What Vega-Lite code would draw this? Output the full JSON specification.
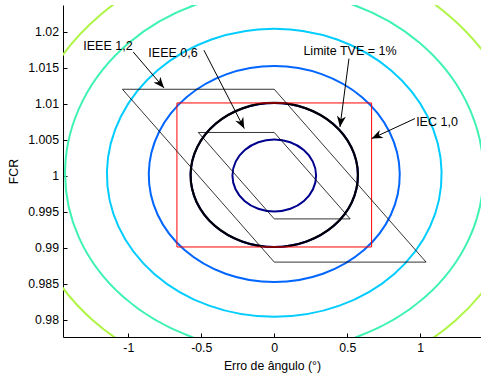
{
  "$schema": "https://vega.github.io/schema/vega-lite/v6.json",
  "width": 418,
  "height": 332,
  "autosize": {"type": "none"},
  "padding": {"left": 63, "top": 5, "right": 0, "bottom": 39},
  "config": {
    "view": {"stroke": null},
    "font": "Liberation Sans",
    "axis": {
      "grid": false,
      "domainColor": "#000",
      "domainWidth": 1,
      "tickColor": "#000",
      "tickWidth": 1,
      "tickSize": -4,
      "labelColor": "#000",
      "titleColor": "#000",
      "labelFont": "Liberation Sans",
      "titleFont": "Liberation Sans",
      "labelFontSize": 12.3,
      "titleFontSize": 12.3,
      "titleFontWeight": "normal"
    }
  },
  "datasets": {
    "rings": [
      {"level": 0.5, "i": 0, "x": 0, "y": 1.005025},
      {"level": 0.5, "i": 1, "x": 0.10912, "y": 1.004646},
      {"level": 0.5, "i": 2, "x": 0.20186, "y": 1.003567},
      {"level": 0.5, "i": 3, "x": 0.26417, "y": 1.001949},
      {"level": 0.5, "i": 4, "x": 0.28648, "y": 1.000038},
      {"level": 0.5, "i": 5, "x": 0.26518, "y": 0.998122},
      {"level": 0.5, "i": 6, "x": 0.20329, "y": 0.996496},
      {"level": 0.5, "i": 7, "x": 0.11014, "y": 0.995407},
      {"level": 0.5, "i": 8, "x": 0, "y": 0.995025},
      {"level": 0.5, "i": 9, "x": -0.11014, "y": 0.995407},
      {"level": 0.5, "i": 10, "x": -0.20329, "y": 0.996496},
      {"level": 0.5, "i": 11, "x": -0.26518, "y": 0.998122},
      {"level": 0.5, "i": 12, "x": -0.28648, "y": 1.000038},
      {"level": 0.5, "i": 13, "x": -0.26417, "y": 1.001949},
      {"level": 0.5, "i": 14, "x": -0.20186, "y": 1.003567},
      {"level": 0.5, "i": 15, "x": -0.10912, "y": 1.004646},

      {"level": 1, "i": 0, "x": 0, "y": 1.0101},
      {"level": 1, "i": 1, "x": 0.21723, "y": 1.009346},
      {"level": 1, "i": 2, "x": 0.40228, "y": 1.007196},
      {"level": 1, "i": 3, "x": 0.52732, "y": 1.00397},
      {"level": 1, "i": 4, "x": 0.57296, "y": 1.00015},
      {"level": 1, "i": 5, "x": 0.53137, "y": 0.996316},
      {"level": 1, "i": 6, "x": 0.40801, "y": 0.993054},
      {"level": 1, "i": 7, "x": 0.22129, "y": 0.990869},
      {"level": 1, "i": 8, "x": 0, "y": 0.9901},
      {"level": 1, "i": 9, "x": -0.22129, "y": 0.990869},
      {"level": 1, "i": 10, "x": -0.40801, "y": 0.993054},
      {"level": 1, "i": 11, "x": -0.53137, "y": 0.996316},
      {"level": 1, "i": 12, "x": -0.57296, "y": 1.00015},
      {"level": 1, "i": 13, "x": -0.52732, "y": 1.00397},
      {"level": 1, "i": 14, "x": -0.40228, "y": 1.007196},
      {"level": 1, "i": 15, "x": -0.21723, "y": 1.009346},

      {"level": 1.5, "i": 0, "x": 0, "y": 1.015225},
      {"level": 1.5, "i": 1, "x": 0.32433, "y": 1.0141},
      {"level": 1.5, "i": 2, "x": 0.60127, "y": 1.010888},
      {"level": 1.5, "i": 3, "x": 0.78946, "y": 1.006061},
      {"level": 1.5, "i": 4, "x": 0.85944, "y": 1.000338},
      {"level": 1.5, "i": 5, "x": 0.79858, "y": 0.994581},
      {"level": 1.5, "i": 6, "x": 0.61416, "y": 0.989675},
      {"level": 1.5, "i": 7, "x": 0.33345, "y": 0.986383},
      {"level": 1.5, "i": 8, "x": 0, "y": 0.985225},
      {"level": 1.5, "i": 9, "x": -0.33345, "y": 0.986383},
      {"level": 1.5, "i": 10, "x": -0.61416, "y": 0.989675},
      {"level": 1.5, "i": 11, "x": -0.79858, "y": 0.994581},
      {"level": 1.5, "i": 12, "x": -0.85944, "y": 1.000338},
      {"level": 1.5, "i": 13, "x": -0.78946, "y": 1.006061},
      {"level": 1.5, "i": 14, "x": -0.60127, "y": 1.010888},
      {"level": 1.5, "i": 15, "x": -0.32433, "y": 1.0141},

      {"level": 2, "i": 0, "x": 0, "y": 1.0204},
      {"level": 2, "i": 1, "x": 0.43042, "y": 1.018907},
      {"level": 2, "i": 2, "x": 0.79883, "y": 1.014642},
      {"level": 2, "i": 3, "x": 1.05059, "y": 1.008225},
      {"level": 2, "i": 4, "x": 1.14592, "y": 1.0006},
      {"level": 2, "i": 5, "x": 1.06679, "y": 0.992917},
      {"level": 2, "i": 6, "x": 0.82175, "y": 0.986358},
      {"level": 2, "i": 7, "x": 0.44662, "y": 0.981951},
      {"level": 2, "i": 8, "x": 0, "y": 0.9804},
      {"level": 2, "i": 9, "x": -0.44662, "y": 0.981951},
      {"level": 2, "i": 10, "x": -0.82175, "y": 0.986358},
      {"level": 2, "i": 11, "x": -1.06679, "y": 0.992917},
      {"level": 2, "i": 12, "x": -1.14592, "y": 1.0006},
      {"level": 2, "i": 13, "x": -1.05059, "y": 1.008225},
      {"level": 2, "i": 14, "x": -0.79883, "y": 1.014642},
      {"level": 2, "i": 15, "x": -0.43042, "y": 1.018907},

      {"level": 2.5, "i": 0, "x": 0, "y": 1.025625},
      {"level": 2.5, "i": 1, "x": 0.53549, "y": 1.023768},
      {"level": 2.5, "i": 2, "x": 0.99496, "y": 1.018459},
      {"level": 2.5, "i": 3, "x": 1.3107, "y": 1.010459},
      {"level": 2.5, "i": 4, "x": 1.4324, "y": 1.000938},
      {"level": 2.5, "i": 5, "x": 1.33602, "y": 0.991325},
      {"level": 2.5, "i": 6, "x": 1.03077, "y": 0.983104},
      {"level": 2.5, "i": 7, "x": 0.56081, "y": 0.977574},
      {"level": 2.5, "i": 8, "x": 0, "y": 0.975625},
      {"level": 2.5, "i": 9, "x": -0.56081, "y": 0.977574},
      {"level": 2.5, "i": 10, "x": -1.03077, "y": 0.983104},
      {"level": 2.5, "i": 11, "x": -1.33602, "y": 0.991325},
      {"level": 2.5, "i": 12, "x": -1.4324, "y": 1.000938},
      {"level": 2.5, "i": 13, "x": -1.3107, "y": 1.010459},
      {"level": 2.5, "i": 14, "x": -0.99496, "y": 1.018459},
      {"level": 2.5, "i": 15, "x": -0.53549, "y": 1.023768},

      {"level": 3, "i": 0, "x": 0, "y": 1.030927},
      {"level": 3, "i": 1, "x": 0.63955, "y": 1.028705},
      {"level": 3, "i": 2, "x": 1.18965, "y": 1.022352},
      {"level": 3, "i": 3, "x": 1.5698, "y": 1.012771},
      {"level": 3, "i": 4, "x": 1.71887, "y": 1.00135},
      {"level": 3, "i": 5, "x": 1.60626, "y": 0.989798},
      {"level": 3, "i": 6, "x": 1.24121, "y": 0.979898},
      {"level": 3, "i": 7, "x": 0.67601, "y": 0.973227},
      {"level": 3, "i": 8, "x": 0, "y": 0.970873},
      {"level": 3, "i": 9, "x": -0.67601, "y": 0.973227},
      {"level": 3, "i": 10, "x": -1.24121, "y": 0.979898},
      {"level": 3, "i": 11, "x": -1.60626, "y": 0.989798},
      {"level": 3, "i": 12, "x": -1.71887, "y": 1.00135},
      {"level": 3, "i": 13, "x": -1.5698, "y": 1.012771},
      {"level": 3, "i": 14, "x": -1.18965, "y": 1.022352},
      {"level": 3, "i": 15, "x": -0.63955, "y": 1.028705}
    ],
    "iec": [
      {"i": 0, "x": -0.6667, "y": 1.0101},
      {"i": 1, "x": 0.6667, "y": 1.0101},
      {"i": 2, "x": 0.6667, "y": 0.9901},
      {"i": 3, "x": -0.6667, "y": 0.9901}
    ],
    "ieee": [
      {"s": "IEEE 1,2", "i": 0, "x": -1.04, "y": 1.012},
      {"s": "IEEE 1,2", "i": 1, "x": 0, "y": 1.012},
      {"s": "IEEE 1,2", "i": 2, "x": 1.04, "y": 0.988},
      {"s": "IEEE 1,2", "i": 3, "x": 0, "y": 0.988},
      {"s": "IEEE 0,6", "i": 0, "x": -0.52, "y": 1.006},
      {"s": "IEEE 0,6", "i": 1, "x": 0, "y": 1.006},
      {"s": "IEEE 0,6", "i": 2, "x": 0.52, "y": 0.994},
      {"s": "IEEE 0,6", "i": 3, "x": 0, "y": 0.994}
    ],
    "arrows": [
      {"x": -0.966, "y": 1.01718, "x2": -0.755, "y2": 1.01218},
      {"x": -0.4815, "y": 1.01742, "x2": -0.2055, "y2": 1.00654},
      {"x": 0.5116, "y": 1.01626, "x2": 0.45, "y2": 1.00676},
      {"x": 0.9637, "y": 1.00793, "x2": 0.6671, "y2": 1.00515}
    ],
    "labels": [
      {"t": "IEEE 1,2", "x": -1.139, "y": 1.01807},
      {"t": "IEEE 0,6", "x": -0.6936, "y": 1.01707},
      {"t": "Limite TVE = 1%", "x": 0.5188, "y": 1.01731},
      {"t": "IEC 1,0", "x": 1.1146, "y": 1.00742}
    ]
  },
  "encoding": {
    "x": {
      "field": "x",
      "type": "quantitative",
      "scale": {"domain": [-1.447, 1.416], "nice": false, "zero": false},
      "axis": {
        "title": "Erro de ângulo (°)",
        "values": [-1, -0.5, 0, 0.5, 1],
        "labelExpr": "'' + datum.value",
        "labelPadding": 8,
        "titleY": 32,
        "titleBaseline": "alphabetic"
      }
    },
    "y": {
      "field": "y",
      "type": "quantitative",
      "scale": {"domain": [0.9776, 1.0237], "nice": false, "zero": false},
      "axis": {
        "title": "FCR",
        "values": [0.98, 0.985, 0.99, 0.995, 1, 1.005, 1.01, 1.015, 1.02],
        "labelExpr": "'' + datum.value",
        "labelPadding": 8.5,
        "titleX": -46,
        "titleBaseline": "alphabetic"
      }
    }
  },
  "layer": [
    {
      "data": {"name": "rings"},
      "mark": {"type": "line", "interpolate": "cardinal-closed", "strokeWidth": 2, "clip": true},
      "encoding": {
        "order": {"field": "i", "type": "quantitative"},
        "color": {
          "field": "level",
          "type": "nominal",
          "scale": {
            "domain": [0.5, 1, 1.5, 2, 2.5, 3],
            "range": ["#00008F", "#0000F0", "#0066FF", "#00CCFF", "#3EF2B2", "#AEF545"]
          },
          "legend": null
        }
      }
    },
    {
      "data": {"name": "rings"},
      "transform": [{"filter": "datum.level == 1"}],
      "mark": {"type": "line", "interpolate": "cardinal-closed", "strokeWidth": 2.2, "color": "#000", "clip": true},
      "encoding": {"order": {"field": "i", "type": "quantitative"}}
    },
    {
      "data": {"name": "iec"},
      "mark": {"type": "line", "interpolate": "linear-closed", "strokeWidth": 1, "color": "#FF0000", "clip": true},
      "encoding": {"order": {"field": "i", "type": "quantitative"}}
    },
    {
      "data": {"name": "ieee"},
      "mark": {"type": "line", "interpolate": "linear-closed", "strokeWidth": 0.8, "color": "#000", "clip": true},
      "encoding": {
        "order": {"field": "i", "type": "quantitative"},
        "detail": {"field": "s", "type": "nominal"}
      }
    },
    {
      "data": {"name": "arrows"},
      "mark": {"type": "rule", "strokeWidth": 1, "color": "#000"},
      "encoding": {
        "x2": {"field": "x2"},
        "y2": {"field": "y2"}
      }
    },
    {
      "data": {"values": [{"x": -0.755, "y": 1.01218}]},
      "mark": {"type": "point", "shape": "M0,0 L0.41,1 L0,0.7 L-0.41,1 Z", "size": 484, "filled": true, "color": "#000", "opacity": 1, "angle": 139.5}
    },
    {
      "data": {"values": [{"x": -0.2055, "y": 1.00654}]},
      "mark": {"type": "point", "shape": "M0,0 L0.41,1 L0,0.7 L-0.41,1 Z", "size": 484, "filled": true, "color": "#000", "opacity": 1, "angle": 152.8}
    },
    {
      "data": {"values": [{"x": 0.45, "y": 1.00676}]},
      "mark": {"type": "point", "shape": "M0,0 L0.41,1 L0,0.7 L-0.41,1 Z", "size": 484, "filled": true, "color": "#000", "opacity": 1, "angle": 187.5}
    },
    {
      "data": {"values": [{"x": 0.6671, "y": 1.00515}]},
      "mark": {"type": "point", "shape": "M0,0 L0.41,1 L0,0.7 L-0.41,1 Z", "size": 484, "filled": true, "color": "#000", "opacity": 1, "angle": 245.2}
    },
    {
      "data": {"name": "labels"},
      "mark": {"type": "text", "font": "Liberation Sans", "fontSize": 12.5, "color": "#000", "align": "center", "baseline": "middle"},
      "encoding": {"text": {"field": "t", "type": "nominal"}}
    }
  ]
}
